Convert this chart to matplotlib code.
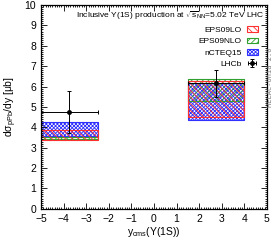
"""
Inclusive Upsilon(1S) production in pPb at 5.02 TeV - HELAC-Onia style plot
"""

import matplotlib
matplotlib.use('Agg')
import matplotlib.pyplot as plt
from matplotlib.ticker import MultipleLocator

plt.rcParams['font.family'] = ['Liberation Sans', 'DejaVu Sans']
plt.rcParams['hatch.linewidth'] = 0.6
plt.rcParams['mathtext.fontset'] = 'custom'
plt.rcParams['mathtext.rm'] = 'Liberation Sans'
plt.rcParams['mathtext.it'] = 'Liberation Sans'

# --- Data ---
bin_lo = [-5.0, 1.5]
bin_hi = [-2.5, 4.0]

eps09lo_lo = [3.37, 4.49]
eps09lo_hi = [3.87, 6.27]
eps09nlo_lo = [3.42, 5.29]
eps09nlo_hi = [3.52, 6.37]
ncteq15_lo = [3.57, 4.35]
ncteq15_hi = [4.28, 6.17]

lhcb_y = [-3.75, 2.75]
lhcb_val = [4.75, 6.15]
lhcb_err = [1.03, 0.66]
lhcb_xerr = [1.25, 1.25]

fig = plt.figure(figsize=(2.74, 2.41), dpi=100)
ax = fig.add_axes([0.150, 0.134, 0.824, 0.845])

bands = [
    ('EPS09LO', eps09lo_lo, eps09lo_hi, '#ff3030', '\\\\\\\\\\'),
    ('EPS09NLO', eps09nlo_lo, eps09nlo_hi, '#30a030', '//////'),
    ('nCTEQ15', ncteq15_lo, ncteq15_hi, '#3030ff', 'xxxxxxxxx'),
]

# draw nCTEQ first so EPS lines stay visible on top
for name, lo, hi, col, hatch in reversed(bands):
    for i in range(len(bin_lo)):
        ax.fill_between([bin_lo[i], bin_hi[i]], lo[i], hi[i], facecolor='none',
                        edgecolor=col, hatch=hatch, linewidth=0.8,
                        label=name if i == 0 else None)

ax.errorbar(lhcb_y, lhcb_val, yerr=lhcb_err, xerr=lhcb_xerr, fmt='o', color='black',
            markersize=2.5, elinewidth=0.7, capsize=1.5, capthick=0.7, label='LHCb')

ax.set_xlim(-5, 5)
ax.set_ylim(0, 10)
ax.xaxis.set_major_locator(MultipleLocator(1))
ax.xaxis.set_minor_locator(MultipleLocator(0.1))
ax.yaxis.set_major_locator(MultipleLocator(1))
ax.yaxis.set_minor_locator(MultipleLocator(0.1))
ax.tick_params(which='both', direction='in', top=True, right=True, labelsize=7.5, width=0.6)
ax.tick_params(which='major', length=4)
ax.tick_params(which='minor', length=1.5)
ax.tick_params(axis='x', pad=3.5)
for s in ax.spines.values():
    s.set_linewidth(0.9)

ax.set_xlabel(r'y$_{\rm cms}$($\Upsilon$(1S))', fontsize=7.5, labelpad=1)
ax.set_ylabel(r'd$\sigma_{\rm pPb}$/dy [$\mu$b]', fontsize=7.5, labelpad=4)

ax.text(0.99, 0.948, r'Inclusive $\Upsilon$(1S) production at $\sqrt{\rm s}_{\rm NN}$=5.02 TeV LHC',
        transform=ax.transAxes, ha='right', va='center', fontsize=6)

handles, labels = ax.get_legend_handles_labels()
order = [labels.index(n) for n in ['EPS09LO', 'EPS09NLO', 'nCTEQ15', 'LHCb']]
ax.legend([handles[i] for i in order], [labels[i] for i in order], loc='upper right',
          bbox_to_anchor=(0.985, 0.925), frameon=False, markerfirst=False, fontsize=6,
          handlelength=1.3, handleheight=0.7, handletextpad=0.6, labelspacing=0.42,
          borderpad=0.2)

fig.text(0.987, 0.68, 'HELAC-Onia 2.0', rotation=90, ha='center', va='center',
         fontsize=5, family='DejaVu Sans Mono', color='#808080')

plt.savefig('out.png', dpi=100)
plt.close()
